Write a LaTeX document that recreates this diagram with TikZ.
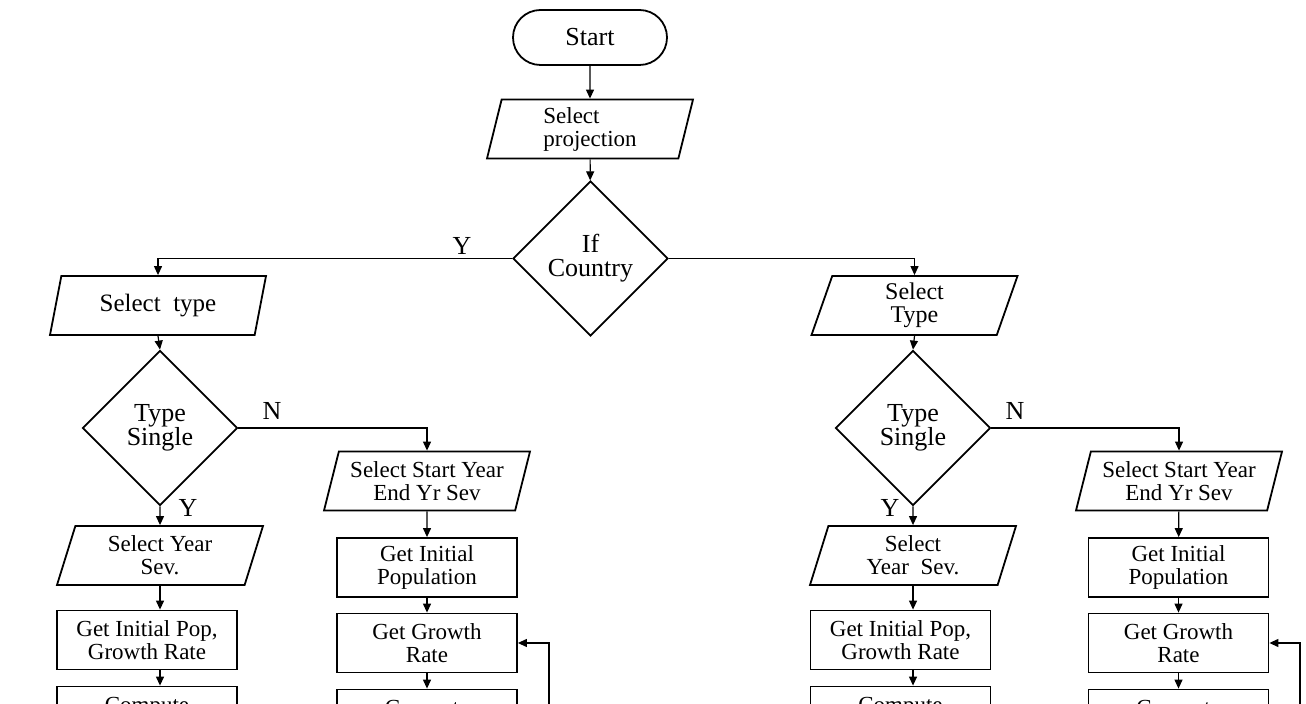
\documentclass[tikz,border=0pt]{standalone}
\usepackage{fontspec}
\setmainfont{Liberation Serif}
\usetikzlibrary{arrows.meta,shapes.geometric}
\tikzset{>={Triangle[width=4pt,length=4.5pt]}}
\tikzset{
  term/.style={draw, line width=0.9pt, rounded corners=13.75pt, minimum width=77pt, minimum height=27.5pt, font=\fontsize{13}{12}\selectfont},
  pgram/.style={draw, line width=0.9pt, trapezium, trapezium left angle=67, trapezium right angle=113, trapezium stretches body, minimum width=103pt, minimum height=29.5pt, inner xsep=2pt, inner ysep=1pt, align=center, font=\fontsize{11.5}{11.5}\selectfont},
  decis/.style={draw, line width=0.9pt, diamond, aspect=1, minimum width=77.5pt, minimum height=77.5pt, inner sep=0pt, align=center, font=\fontsize{13}{12}\selectfont},
  procbox/.style={draw, line width=0.9pt, rectangle, minimum width=90pt, minimum height=29.5pt, inner sep=1pt, align=center, font=\fontsize{11.5}{11.5}\selectfont},
  flow/.style={->, line width=0.6pt},
  lbl/.style={font=\fontsize{13}{13}\selectfont, inner sep=0pt},
}
\begin{document}
\begin{tikzpicture}[x=0.5pt, y=-0.5pt]

% Zone de dessin / Drawing area (1 unit = 1 pixel of the page)
\useasboundingbox (0,0) rectangle (1306,704);
\clip (0,0) rectangle (1306,704);

% Tronc commun / Common trunk
\node[term] (start) at (590,37.5) {Start};
\node[pgram, trapezium left angle=73, trapezium right angle=107, align=left] (proj) at (590,129) {Select\\projection};
\node[decis] (ifc) at (590.5,258.5) {If\\Country};

% Branche gauche / Left branch
\node[pgram, minimum width=108pt, font=\fontsize{12.5}{12}\selectfont] (seltL) at (158,305.5) {Select~ type};
\node[decis] (tsL) at (160,428) {Type\\Single};
\node[pgram] (ysL) at (160,555.5) {Select Year\\Sev.};
\node[procbox] (gpL) at (147,640) {Get Initial Pop,\\Growth Rate};
\node[procbox] (cpL) at (147,716) {Compute\\ };
\node[pgram, trapezium left angle=71, trapezium right angle=109] (ssL) at (427,481) {Select Start Year\\End Yr Sev};
\node[procbox] (giL) at (427,567.5) {Get Initial\\Population};
\node[procbox] (ggL) at (427,643) {Get Growth\\Rate};
\node[procbox] (cmL) at (427,719) {Compute\\ };
\coordinate (fbL) at (549,760);

% Branche droite / Right branch
\node[pgram, font=\fontsize{12}{11.5}\selectfont] (seltR) at (914.5,305.5) {Select\\Type};
\node[decis] (tsR) at (913,428) {Type\\Single};
\node[pgram] (ysR) at (913,555.5) {Select\\Year~ Sev.};
\node[procbox] (gpR) at (900.5,640) {Get Initial Pop,\\Growth Rate};
\node[procbox] (cpR) at (900.5,716) {Compute\\ };
\node[pgram, trapezium left angle=71, trapezium right angle=109] (ssR) at (1179,481) {Select Start Year\\End Yr Sev};
\node[procbox] (giR) at (1178.5,567.5) {Get Initial\\Population};
\node[procbox] (ggR) at (1178.5,643) {Get Growth\\Rate};
\node[procbox] (cmR) at (1178.5,719) {Compute\\ };
\coordinate (fbR) at (1300,760);

% Etiquettes / Labels
\node[lbl] (yC) at (462,246) {Y};
\node[lbl] (nL) at (272,411) {N};
\node[lbl] (yL) at (188,508) {Y};
\node[lbl] (nR) at (1015,411) {N};
\node[lbl] (yR) at (890,508) {Y};

% Fleches / Arrows
\draw[flow] (start) -- (proj);
\draw[flow] (proj) -- (ifc);
\draw[flow] (ifc.west) -| (seltL.north);
\draw[flow] (ifc.east) -| (seltR.north);

\draw[flow] (seltL.south) -- (tsL.north);
\draw[flow] (tsL.south) -- (ysL.north);
\draw[flow] (ysL.south) -- (ysL.south |- gpL.north);
\draw[flow] (gpL.south -| ysL.south) -- (cpL.north -| ysL.south);
\draw[flow] (tsL.east) -| (ssL.north);
\draw[flow] (ssL) -- (giL);
\draw[flow] (giL) -- (ggL);
\draw[flow] (ggL) -- (cmL);
\draw[flow] (fbL) |- (ggL.east);

\draw[flow] (seltR.south) -- (tsR.north);
\draw[flow] (tsR.south) -- (ysR.north);
\draw[flow] (ysR.south) -- (ysR.south |- gpR.north);
\draw[flow] (gpR.south -| ysR.south) -- (cpR.north -| ysR.south);
\draw[flow] (tsR.east) -| (ssR.north);
\draw[flow] (ssR) -- (giR);
\draw[flow] (giR) -- (ggR);
\draw[flow] (ggR) -- (cmR);
\draw[flow] (fbR) |- (ggR.east);

\end{tikzpicture}
\end{document}
